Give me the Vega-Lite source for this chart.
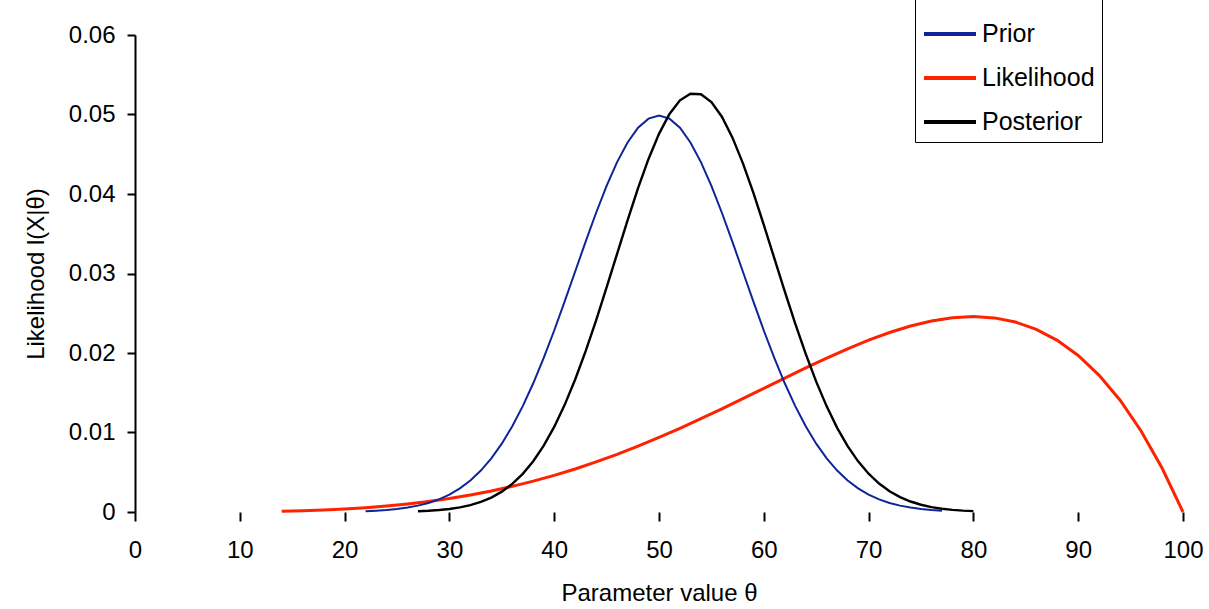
{
  "$schema": "https://vega.github.io/schema/vega-lite/v6.json",
  "autosize": "none",
  "width": 1048,
  "height": 477,
  "padding": {"left": 135, "top": 35, "right": 26, "bottom": 97},
  "background": "white",
  "config": {
    "view": {"stroke": null},
    "font": "Liberation Sans",
    "axis": {"grid": false, "labelFont": "Liberation Sans", "titleFont": "Liberation Sans", "labelColor": "black", "titleColor": "black", "tickColor": "black", "domainColor": "black", "labelFontSize": 24, "titleFontSize": 24, "titleFontWeight": "normal", "tickWidth": 2, "domainWidth": 2, "tickSize": 8},
    "legend": {"strokeColor": "black"}
  },
  "data": {"values": [
    {"theta": 22, "value": 0.000109, "series": "Prior"},
    {"theta": 23, "value": 0.000168, "series": "Prior"},
    {"theta": 24, "value": 0.000254, "series": "Prior"},
    {"theta": 25, "value": 0.000378, "series": "Prior"},
    {"theta": 26, "value": 0.000554, "series": "Prior"},
    {"theta": 27, "value": 0.000800, "series": "Prior"},
    {"theta": 28, "value": 0.001137, "series": "Prior"},
    {"theta": 29, "value": 0.001591, "series": "Prior"},
    {"theta": 30, "value": 0.002191, "series": "Prior"},
    {"theta": 31, "value": 0.002971, "series": "Prior"},
    {"theta": 32, "value": 0.003967, "series": "Prior"},
    {"theta": 33, "value": 0.005215, "series": "Prior"},
    {"theta": 34, "value": 0.006749, "series": "Prior"},
    {"theta": 35, "value": 0.008598, "series": "Prior"},
    {"theta": 36, "value": 0.010785, "series": "Prior"},
    {"theta": 37, "value": 0.013319, "series": "Prior"},
    {"theta": 38, "value": 0.016190, "series": "Prior"},
    {"theta": 39, "value": 0.019376, "series": "Prior"},
    {"theta": 40, "value": 0.022831, "series": "Prior"},
    {"theta": 41, "value": 0.026485, "series": "Prior"},
    {"theta": 42, "value": 0.030246, "series": "Prior"},
    {"theta": 43, "value": 0.034007, "series": "Prior"},
    {"theta": 44, "value": 0.037642, "series": "Prior"},
    {"theta": 45, "value": 0.041020, "series": "Prior"},
    {"theta": 46, "value": 0.044008, "series": "Prior"},
    {"theta": 47, "value": 0.046482, "series": "Prior"},
    {"theta": 48, "value": 0.048334, "series": "Prior"},
    {"theta": 49, "value": 0.049480, "series": "Prior"},
    {"theta": 50, "value": 0.049868, "series": "Prior"},
    {"theta": 51, "value": 0.049480, "series": "Prior"},
    {"theta": 52, "value": 0.048334, "series": "Prior"},
    {"theta": 53, "value": 0.046482, "series": "Prior"},
    {"theta": 54, "value": 0.044008, "series": "Prior"},
    {"theta": 55, "value": 0.041020, "series": "Prior"},
    {"theta": 56, "value": 0.037642, "series": "Prior"},
    {"theta": 57, "value": 0.034007, "series": "Prior"},
    {"theta": 58, "value": 0.030246, "series": "Prior"},
    {"theta": 59, "value": 0.026485, "series": "Prior"},
    {"theta": 60, "value": 0.022831, "series": "Prior"},
    {"theta": 61, "value": 0.019376, "series": "Prior"},
    {"theta": 62, "value": 0.016190, "series": "Prior"},
    {"theta": 63, "value": 0.013319, "series": "Prior"},
    {"theta": 64, "value": 0.010785, "series": "Prior"},
    {"theta": 65, "value": 0.008598, "series": "Prior"},
    {"theta": 66, "value": 0.006749, "series": "Prior"},
    {"theta": 67, "value": 0.005215, "series": "Prior"},
    {"theta": 68, "value": 0.003967, "series": "Prior"},
    {"theta": 69, "value": 0.002971, "series": "Prior"},
    {"theta": 70, "value": 0.002191, "series": "Prior"},
    {"theta": 71, "value": 0.001591, "series": "Prior"},
    {"theta": 72, "value": 0.001137, "series": "Prior"},
    {"theta": 73, "value": 0.000800, "series": "Prior"},
    {"theta": 74, "value": 0.000554, "series": "Prior"},
    {"theta": 75, "value": 0.000378, "series": "Prior"},
    {"theta": 76, "value": 0.000254, "series": "Prior"},
    {"theta": 77, "value": 0.000168, "series": "Prior"},
    {"theta": 14, "value": 0.000099, "series": "Likelihood"},
    {"theta": 16, "value": 0.000165, "series": "Likelihood"},
    {"theta": 18, "value": 0.000258, "series": "Likelihood"},
    {"theta": 20, "value": 0.000384, "series": "Likelihood"},
    {"theta": 22, "value": 0.000548, "series": "Likelihood"},
    {"theta": 24, "value": 0.000756, "series": "Likelihood"},
    {"theta": 26, "value": 0.001014, "series": "Likelihood"},
    {"theta": 28, "value": 0.001328, "series": "Likelihood"},
    {"theta": 30, "value": 0.001701, "series": "Likelihood"},
    {"theta": 32, "value": 0.002139, "series": "Likelihood"},
    {"theta": 34, "value": 0.002646, "series": "Likelihood"},
    {"theta": 36, "value": 0.003225, "series": "Likelihood"},
    {"theta": 38, "value": 0.003878, "series": "Likelihood"},
    {"theta": 40, "value": 0.004608, "series": "Likelihood"},
    {"theta": 42, "value": 0.005414, "series": "Likelihood"},
    {"theta": 44, "value": 0.006297, "series": "Likelihood"},
    {"theta": 46, "value": 0.007253, "series": "Likelihood"},
    {"theta": 48, "value": 0.008281, "series": "Likelihood"},
    {"theta": 50, "value": 0.009375, "series": "Likelihood"},
    {"theta": 52, "value": 0.010529, "series": "Likelihood"},
    {"theta": 54, "value": 0.011734, "series": "Likelihood"},
    {"theta": 56, "value": 0.012982, "series": "Likelihood"},
    {"theta": 58, "value": 0.014259, "series": "Likelihood"},
    {"theta": 60, "value": 0.015552, "series": "Likelihood"},
    {"theta": 62, "value": 0.016845, "series": "Likelihood"},
    {"theta": 64, "value": 0.018119, "series": "Likelihood"},
    {"theta": 66, "value": 0.019354, "series": "Likelihood"},
    {"theta": 68, "value": 0.020526, "series": "Likelihood"},
    {"theta": 70, "value": 0.021609, "series": "Likelihood"},
    {"theta": 72, "value": 0.022574, "series": "Likelihood"},
    {"theta": 74, "value": 0.023390, "series": "Likelihood"},
    {"theta": 76, "value": 0.024021, "series": "Likelihood"},
    {"theta": 78, "value": 0.024430, "series": "Likelihood"},
    {"theta": 80, "value": 0.024576, "series": "Likelihood"},
    {"theta": 82, "value": 0.024415, "series": "Likelihood"},
    {"theta": 84, "value": 0.023898, "series": "Likelihood"},
    {"theta": 86, "value": 0.022974, "series": "Likelihood"},
    {"theta": 88, "value": 0.021589, "series": "Likelihood"},
    {"theta": 90, "value": 0.019683, "series": "Likelihood"},
    {"theta": 92, "value": 0.017193, "series": "Likelihood"},
    {"theta": 94, "value": 0.014053, "series": "Likelihood"},
    {"theta": 96, "value": 0.010192, "series": "Likelihood"},
    {"theta": 98, "value": 0.005534, "series": "Likelihood"},
    {"theta": 100, "value": 0, "series": "Likelihood"},
    {"theta": 27, "value": 0.000095, "series": "Posterior"},
    {"theta": 28, "value": 0.000154, "series": "Posterior"},
    {"theta": 29, "value": 0.000244, "series": "Posterior"},
    {"theta": 30, "value": 0.000379, "series": "Posterior"},
    {"theta": 31, "value": 0.000578, "series": "Posterior"},
    {"theta": 32, "value": 0.000864, "series": "Posterior"},
    {"theta": 33, "value": 0.001265, "series": "Posterior"},
    {"theta": 34, "value": 0.001816, "series": "Posterior"},
    {"theta": 35, "value": 0.002559, "series": "Posterior"},
    {"theta": 36, "value": 0.003537, "series": "Posterior"},
    {"theta": 37, "value": 0.004799, "series": "Posterior"},
    {"theta": 38, "value": 0.006389, "series": "Posterior"},
    {"theta": 39, "value": 0.008347, "series": "Posterior"},
    {"theta": 40, "value": 0.010704, "series": "Posterior"},
    {"theta": 41, "value": 0.013479, "series": "Posterior"},
    {"theta": 42, "value": 0.016664, "series": "Posterior"},
    {"theta": 43, "value": 0.020229, "series": "Posterior"},
    {"theta": 44, "value": 0.024118, "series": "Posterior"},
    {"theta": 45, "value": 0.028241, "series": "Posterior"},
    {"theta": 46, "value": 0.032479, "series": "Posterior"},
    {"theta": 47, "value": 0.036696, "series": "Posterior"},
    {"theta": 48, "value": 0.040727, "series": "Posterior"},
    {"theta": 49, "value": 0.044407, "series": "Posterior"},
    {"theta": 50, "value": 0.047569, "series": "Posterior"},
    {"theta": 51, "value": 0.050070, "series": "Posterior"},
    {"theta": 52, "value": 0.051779, "series": "Posterior"},
    {"theta": 53, "value": 0.052619, "series": "Posterior"},
    {"theta": 54, "value": 0.052543, "series": "Posterior"},
    {"theta": 55, "value": 0.051561, "series": "Posterior"},
    {"theta": 56, "value": 0.049721, "series": "Posterior"},
    {"theta": 57, "value": 0.047119, "series": "Posterior"},
    {"theta": 58, "value": 0.043883, "series": "Posterior"},
    {"theta": 59, "value": 0.040166, "series": "Posterior"},
    {"theta": 60, "value": 0.036129, "series": "Posterior"},
    {"theta": 61, "value": 0.031939, "series": "Posterior"},
    {"theta": 62, "value": 0.027750, "series": "Posterior"},
    {"theta": 63, "value": 0.023694, "series": "Posterior"},
    {"theta": 64, "value": 0.019883, "series": "Posterior"},
    {"theta": 65, "value": 0.016399, "series": "Posterior"},
    {"theta": 66, "value": 0.013290, "series": "Posterior"},
    {"theta": 67, "value": 0.010586, "series": "Posterior"},
    {"theta": 68, "value": 0.008287, "series": "Posterior"},
    {"theta": 69, "value": 0.006374, "series": "Posterior"},
    {"theta": 70, "value": 0.004817, "series": "Posterior"},
    {"theta": 71, "value": 0.003577, "series": "Posterior"},
    {"theta": 72, "value": 0.002610, "series": "Posterior"},
    {"theta": 73, "value": 0.001871, "series": "Posterior"},
    {"theta": 74, "value": 0.001319, "series": "Posterior"},
    {"theta": 75, "value": 0.000912, "series": "Posterior"},
    {"theta": 76, "value": 0.000620, "series": "Posterior"},
    {"theta": 77, "value": 0.000414, "series": "Posterior"},
    {"theta": 78, "value": 0.000271, "series": "Posterior"},
    {"theta": 79, "value": 0.000174, "series": "Posterior"},
    {"theta": 80, "value": 0.000110, "series": "Posterior"}
  ]},
  "encoding": {
    "x": {"field": "theta", "type": "quantitative",
      "scale": {"domain": [0, 100], "nice": false, "zero": false},
      "axis": {"values": [0, 10, 20, 30, 40, 50, 60, 70, 80, 90, 100], "domain": false, "tickSize": 9, "labelPadding": 17, "title": "Parameter value θ", "titlePadding": 19, "labelFlush": false}},
    "y": {"field": "value", "type": "quantitative",
      "scale": {"domain": [0, 0.06], "nice": false},
      "axis": {"values": [0, 0.01, 0.02, 0.03, 0.04, 0.05, 0.06], "format": ".2~f", "labelPadding": 12, "title": "Likelihood  l(X|θ)", "titlePadding": 20}},
    "color": {"field": "series", "type": "nominal",
      "scale": {"domain": ["Prior", "Likelihood", "Posterior"], "range": ["#10249a", "#ff2200", "#000000"]},
      "legend": {"title": null, "orient": "none", "legendX": 780, "legendY": -36, "padding": 7,
        "symbolType": "stroke", "symbolSize": 2704, "symbolStrokeWidth": 4,
        "labelFont": "Liberation Sans", "labelFontSize": 25, "labelColor": "black", "labelOffset": 4,
        "rowPadding": 3}}
  },
  "layer": [
    {"transform": [{"filter": "datum.series === 'Likelihood'"}], "mark": {"type": "line", "strokeWidth": 3}},
    {"transform": [{"filter": "datum.series === 'Prior'"}], "mark": {"type": "line", "strokeWidth": 2}},
    {"transform": [{"filter": "datum.series === 'Posterior'"}], "mark": {"type": "line", "strokeWidth": 2.4}}
  ]
}
